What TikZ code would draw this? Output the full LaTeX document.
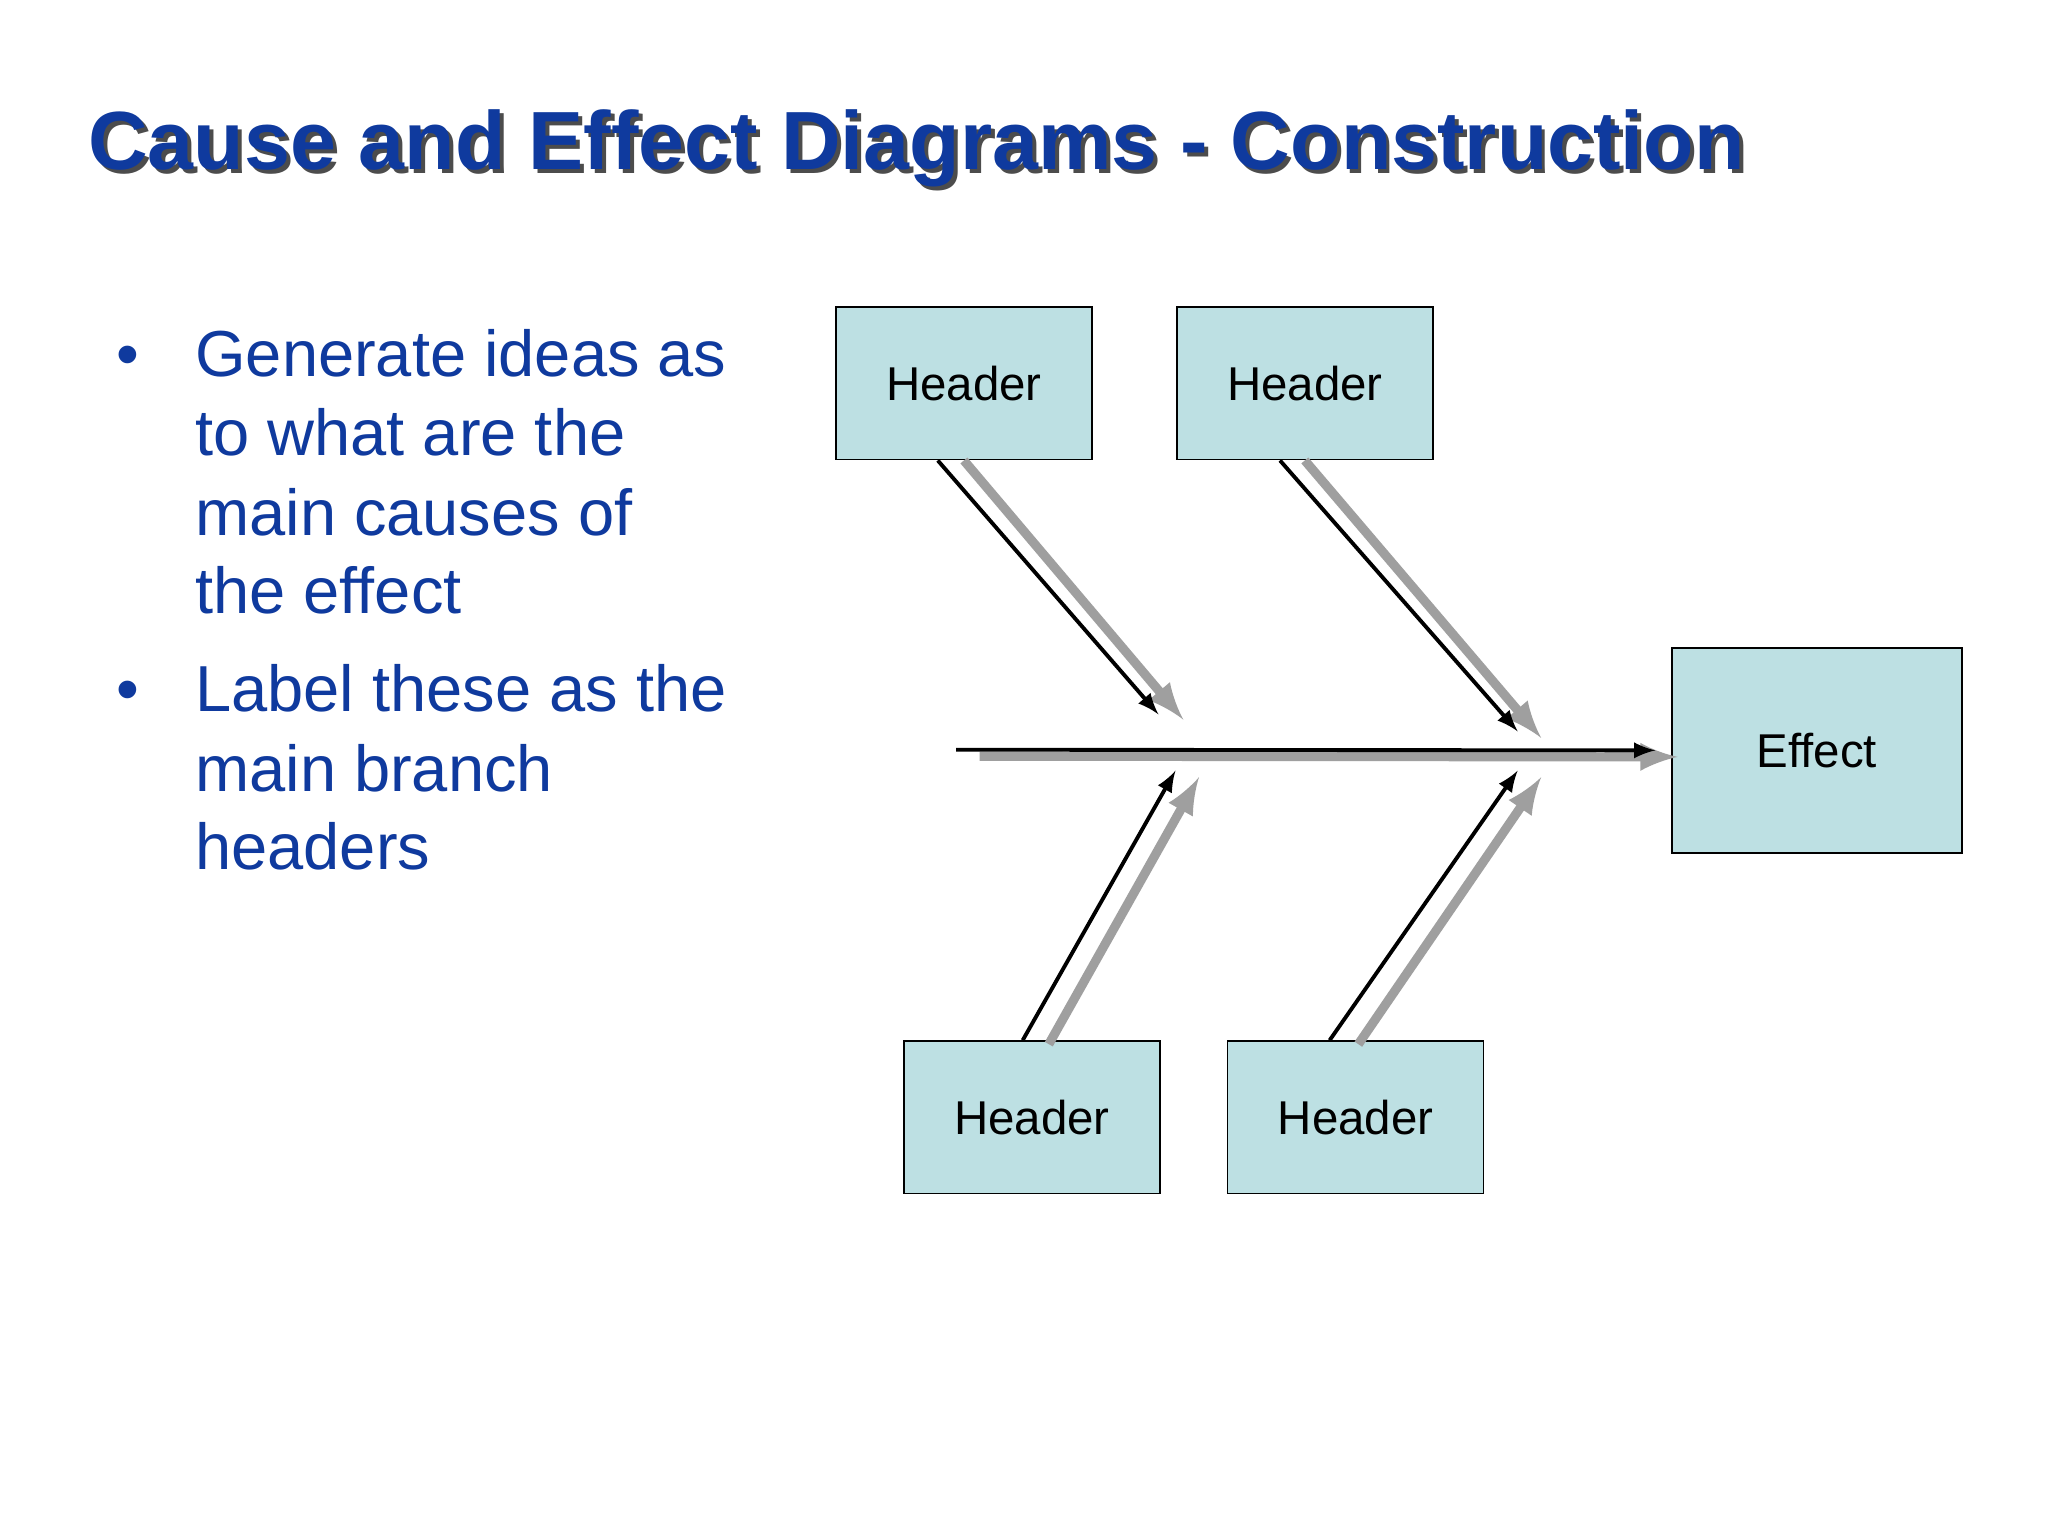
\documentclass[tikz,border=0pt]{standalone}
\usepackage{fontspec}
\setmainfont{Liberation Sans}
\begin{document}
\begin{tikzpicture}[x=0.01306cm,y=-0.01306cm,
  box/.style={draw=black,fill=boxc,inner sep=0pt,font=\fontsize{13.5pt}{16pt}\selectfont},
  blk/.style={draw=black,line width=1.1pt,-latex},
  gry/.style={draw=gray!75,line width=2.6pt,-latex}]
\definecolor{boxc}{HTML}{BDE0E3}
\definecolor{tblue}{HTML}{0F3A9E}
\useasboundingbox (0,0) rectangle (1568,1176);
\fill[white] (0,0) rectangle (1568,1176);
\node[anchor=base west,font=\bfseries\fontsize{23.5pt}{28pt}\selectfont,text=black!70] at (61,133) {Cause and Effect Diagrams - Construction};
\node[anchor=base west,font=\bfseries\fontsize{23.5pt}{28pt}\selectfont,text=tblue] (title) at (58,130) {Cause and Effect Diagrams - Construction};
\foreach \t/\yy in {Generate ideas as/288,to what are the/349,main causes of/410,the effect/470,Label these as the/545,main branch/606,headers/666}
  \node[anchor=base west,text=tblue,font=\fontsize{18.5pt}{22pt}\selectfont] at (140,\yy) {\t};
\node[anchor=base west,text=tblue,font=\fontsize{18.5pt}{22pt}\selectfont] (b1) at (80,288) {•};
\node[anchor=base west,text=tblue,font=\fontsize{18.5pt}{22pt}\selectfont] (b2) at (80,545) {•};
\node[box,minimum width=196*0.01306cm,minimum height=117*0.01306cm] (h1) at (738,293.5) {Header};
\node[box,minimum width=196*0.01306cm,minimum height=117*0.01306cm] (h2) at (999,293.5) {Header};
\node[box,minimum width=196*0.01306cm,minimum height=117*0.01306cm] (h3) at (790,855.5) {Header};
\node[box,minimum width=196*0.01306cm,minimum height=117*0.01306cm] (h4) at (1038,855.5) {Header};
\node[box,minimum width=222*0.01306cm,minimum height=157*0.01306cm] (eff) at (1391,574.5) {Effect};
\coordinate (s0) at (732,574); \coordinate (s0g) at (750,579);
\coordinate (e1) at (887,547); \coordinate (e1g) at (906,551);
\coordinate (e2) at (1162,560); \coordinate (e2g) at (1180,565);
\coordinate (e3) at (900,590); \coordinate (e3g) at (918,595);
\coordinate (e4) at (1162,590); \coordinate (e4g) at (1180,595);
\draw[gry] (s0g) -- ([yshift=-5*0.01306cm,xshift=5*0.01306cm]eff.west);
\draw[gry] ([xshift=0pt]h1.south) -- (e1g);
\draw[gry] ([xshift=0pt]h2.south) -- (e2g);
\draw[gry] ([xshift=13*0.01306cm,yshift=-3*0.01306cm]h3.north) -- (e3g);
\draw[gry] ([xshift=2*0.01306cm,yshift=-3*0.01306cm]h4.north) -- (e4g);
\draw[blk] (s0) -- ([xshift=-12*0.01306cm]eff.west);
\draw[blk] ([xshift=-20*0.01306cm]h1.south) -- (e1);
\draw[blk] ([xshift=-19*0.01306cm]h2.south) -- (e2);
\draw[blk] ([xshift=-7*0.01306cm]h3.north) -- (e3);
\draw[blk] ([xshift=-20*0.01306cm]h4.north) -- (e4);
\end{tikzpicture}
\end{document}
